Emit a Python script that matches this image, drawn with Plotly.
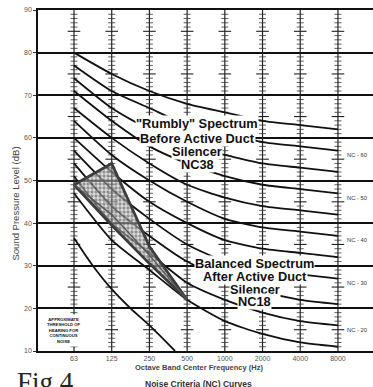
import plotly.graph_objects as go

# ---------------- data ----------------
BANDS = ["63", "125", "250", "500", "1000", "2000", "4000", "8000"]
Y_TICKS = [10, 20, 30, 40, 50, 60, 70, 80, 90]

nc15 = [47, 36, 29, 22, 17, 14, 12, 11]
nc20 = [51, 40, 33, 26, 22, 19, 17, 16]
nc25 = [54, 44, 37, 31, 27, 24, 22, 21]
nc30 = [57, 48, 41, 35, 31, 29, 28, 27]
nc35 = [60, 52, 45, 40, 36, 34, 33, 32]
nc40 = [64, 56, 50, 45, 41, 39, 38, 37]
nc45 = [67, 60, 54, 49, 46, 44, 43, 42]
nc50 = [71, 64, 58, 54, 51, 49, 48, 47]
nc55 = [74, 67, 62, 58, 56, 54, 53, 52]
nc60 = [77, 71, 67, 63, 61, 59, 58, 57]
nc65 = [80, 75, 71, 68, 66, 64, 63, 62]
NC_CURVES = [nc15, nc20, nc25, nc30, nc35, nc40, nc45, nc50, nc55, nc60, nc65]
NC_LABELED = {"NC - 60": nc60, "NC - 50": nc50, "NC - 40": nc40,
              "NC - 30": nc30, "NC - 20": nc20}

# approximate threshold of hearing (band position, dB)
thr_pos = [0, 0.5, 1, 1.5, 2, 2.68]
thr_db = [36.5, 30, 24.5, 20, 16, 10]

# spectra before / after the active duct silencer (63..500 Hz)
spec_pos = [0, 1, 2, 3]
before_db = [49, 54, 34.5, 22]
after_db = [49, 39.5, 30.5, 22]
inner_db = [49, 42, 32.5, 22]

fig = go.Figure()

# ---------------- ladder scales on each octave band ----------------
lx, ly = [], []
mnx, mny, mjx, mjy = [], [], [], []
for i in range(len(BANDS)):
    lx += [i, i, None]
    ly += [10, 90, None]
    for v in range(11, 90):
        if v % 10 == 0:
            continue
        if v % 5 == 0:
            mjx.append(i); mjy.append(v)
        else:
            mnx.append(i); mny.append(v)
fig.add_trace(go.Scatter(x=lx, y=ly, mode="lines",
                         line=dict(color="#222", width=1.2), hoverinfo="skip"))
fig.add_trace(go.Scatter(x=mnx, y=mny, mode="markers",
                         marker=dict(symbol="line-ew", size=5,
                                     line=dict(color="#333", width=0.8)),
                         hoverinfo="skip"))
fig.add_trace(go.Scatter(x=mjx, y=mjy, mode="markers",
                         marker=dict(symbol="line-ew", size=9,
                                     line=dict(color="#222", width=1.1)),
                         hoverinfo="skip"))

# ---------------- NC curves ----------------
for curve in NC_CURVES:
    fig.add_trace(go.Scatter(x=list(range(len(BANDS))), y=curve, mode="lines",
                             line=dict(color="#111", width=1.8, shape="spline",
                                       smoothing=0.6),
                             hoverinfo="skip"))

# threshold of hearing
fig.add_trace(go.Scatter(x=thr_pos, y=thr_db, mode="lines",
                         line=dict(color="#111", width=1.8, shape="spline"),
                         hoverinfo="skip"))

# shaded region between spectra
poly_x = spec_pos + spec_pos[::-1]
poly_y = before_db + after_db[::-1]
fig.add_trace(go.Scatter(x=poly_x, y=poly_y, mode="lines", fill="toself",
                         fillcolor="rgba(170,170,170,0.45)",
                         fillpattern=dict(shape=".", fgcolor="#444", size=4,
                                          solidity=0.55,
                                          bgcolor="rgba(200,200,200,0.55)"),
                         line=dict(color="#3c3c3c", width=2.8),
                         hoverinfo="skip"))
fig.add_trace(go.Scatter(x=spec_pos, y=inner_db, mode="lines",
                         line=dict(color="#555", width=1.4), hoverinfo="skip"))

# ---------------- annotations ----------------
BOLD = "Liberation Sans, Arial, sans-serif"
ann = []


def txt(x, y, s, size, **kw):
    d = dict(x=x, y=y, xref="x", yref="y", text=s, showarrow=False,
             font=dict(family=BOLD, size=size, color="#111"),
             bgcolor="white", borderpad=0)
    d.update(kw)
    ann.append(d)


for s, yy in [("<b>\"Rumbly\" Spectrum</b>", 63.4), ("<b>Before Active Duct</b>", 59.9),
              ("<b>Silencer</b>", 56.8), ("<b>NC38</b>", 53.8)]:
    txt(3.27, yy, s, 12.8)
for s, yy in [("<b>Balanced Spectrum</b>", 30.5), ("<b>After Active Duct</b>", 27.4),
              ("<b>Silencer</b>", 24.5), ("<b>NC18</b>", 21.5)]:
    txt(4.8, yy, s, 12.8)

txt(-0.29, 14.8, "<b>APPROXIMATE<br>THRESHOLD OF<br>HEARING FOR<br>CONTINUOUS<br>NOISE</b>",
    4.2, borderpad=2)

for lab, curve in NC_LABELED.items():
    txt(7.2, curve[-1] - 1, lab, 5.8, xanchor="left", borderpad=1,
        font=dict(family=BOLD, size=5.8, color="#333"))

# texts below the plot (paper coordinates)
H = 387.0
PB = 36.0
ph = H - 10 - PB


def paper_y(px):
    return (H - PB - px) / ph


ann.append(dict(x=0.48, y=paper_y(374), xref="paper", yref="paper",
                text="<b>Octave Band Center Frequency (Hz)</b>", showarrow=False,
                font=dict(family=BOLD, size=7.5, color="#444")))
ann.append(dict(x=0.48, y=paper_y(391), xref="paper", yref="paper",
                text="<b>Noise Criteria (NC) Curves</b>", showarrow=False,
                font=dict(family=BOLD, size=8.5, color="#333")))
ann.append(dict(x=(45 - 38) / 335.0, y=paper_y(399), xref="paper", yref="paper",
                text="Fig 4", showarrow=False, xanchor="center",
                font=dict(family="Liberation Serif, Times New Roman, serif",
                          size=27, color="#222")))
ann.append(dict(x=-30 / 335.0, y=paper_y(204), xref="paper", yref="paper",
                text="Sound Pressure Level (dB)", showarrow=False, textangle=-90,
                font=dict(family=BOLD, size=9.5, color="#444")))

fig.update_layout(
    width=373, height=387,
    margin=dict(l=38, r=0, t=10, b=36),
    paper_bgcolor="white", plot_bgcolor="white",
    showlegend=False,
    annotations=ann,
    xaxis=dict(range=[-0.955, 7.93], tickmode="array",
               tickvals=list(range(len(BANDS))), ticktext=BANDS,
               showgrid=False, zeroline=False, showline=True, mirror=True,
               linecolor="#111", linewidth=1.6, ticks="",
               tickfont=dict(family=BOLD, size=7, color="#555")),
    yaxis=dict(range=[10, 90], tickmode="array", tickvals=Y_TICKS,
               showgrid=True, gridcolor="#111", gridwidth=1.5, zeroline=False,
               showline=True, linecolor="#111", linewidth=1.6,
               ticks="outside", ticklen=3, tickcolor="#333",
               tickfont=dict(family=BOLD, size=7, color="#555")),
)

fig.write_html("out.html", config={"displayModeBar": False},
               post_script="document.body.style.margin='0px';")
